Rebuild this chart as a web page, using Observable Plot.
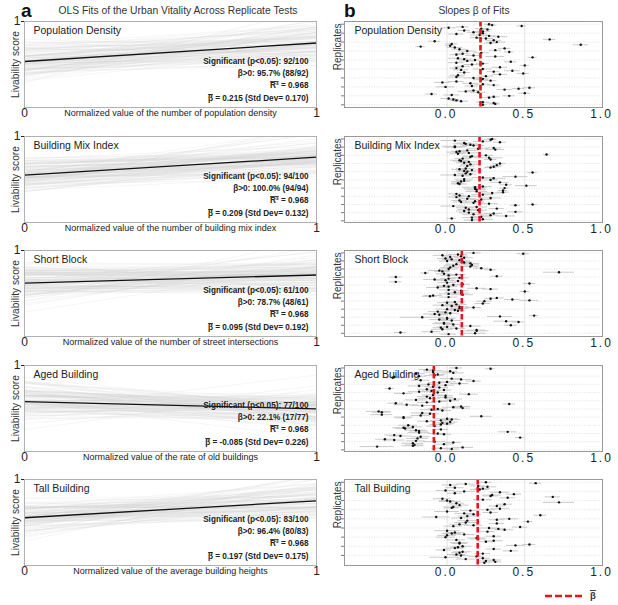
<!DOCTYPE html>
<html>
<head>
<meta charset="utf-8">
<script src="https://cdn.jsdelivr.net/npm/d3@7"></script>
<script src="https://cdn.jsdelivr.net/npm/@observablehq/plot@0.6"></script>
<style>
  body { margin: 0; background: #fff; font-family: "Liberation Sans", Arial, sans-serif; }
  #fig { position: relative; width: 618px; height: 605px; overflow: hidden; background: #fff; }
  #fig > svg { position: absolute; overflow: visible; }
  .slopes g[aria-label="x-axis tick label"] text { letter-spacing: 2px; }
</style>
</head>
<body>
<div id="fig"></div>
<script>
// ---- panel metadata ----
const panelNames = ["Population Density", "Building Mix Index", "Short Block", "Aged Building", "Tall Building"];
const xLabels = [
  "Normalized value of the number of population density",
  "Normalized value of the number of building mix index",
  "Normalized value of the number of street intersections",
  "Normalized value of the rate of old buildings",
  "Normalized value of the average building heights"
];
const significantLabels = ["92/100", "94/100", "61/100", "77/100", "83/100"];
const positiveLabels = ["95.7% (88/92)", "100.0% (94/94)", "78.7% (48/61)", "22.1% (17/77)", "96.4% (80/83)"];
const meanR2 = [0.968, 0.968, 0.968, 0.968, 0.968];
const meanBeta = [0.215, 0.209, 0.095, -0.085, 0.197];
const stdBeta = [0.170, 0.132, 0.192, 0.226, 0.175];
const meanIntercept = [0.535, 0.55, 0.62, 0.58, 0.555];
const slopeTicks = [0, 0.5, 1];

// ---- replicate fits: [slope β, CI half-width, offset of the fit at x = 0.5 from the mean fit] ----
const populationDensity = [
  [0.27,0.03,0.04],[0.29,0.03,-0.06],[0.48,0.03,0.10],[0.10,0.04,-0.02],[0.01,0.05,0.12],[0.22,0.04,-0.10],[0.26,0.03,0.03],[0.11,0.04,-0.15],[0.23,0.05,0.07],[0.17,0.04,-0.01],
  [0.23,0.03,0.15],[0.06,0.05,-0.07],[0.21,0.06,0.02],[0.27,0.05,-0.12],[0.33,0.06,0.06],[0.19,0.04,-0.04],[0.25,0.05,0.18],[0.66,0.04,0.05],[0.30,0.05,-0.09],[-0.08,0.04,0.01],
  [0.32,0.06,-0.03],[0.28,0.04,0.09],[0.03,0.04,-0.17],[0.86,0.05,0.08],[0.02,0.03,-0.05],[-0.17,0.03,0.04],[0.05,0.05,0.13],[0.37,0.04,-0.08],[0.08,0.05,0.00],[0.31,0.04,0.11],
  [0.13,0.06,-0.13],[0.40,0.03,0.03],[0.22,0.05,-0.02],[0.10,0.05,0.07],[0.06,0.04,-0.10],[0.17,0.05,0.16],[0.31,0.06,-0.06],[0.55,0.03,0.02],[0.07,0.06,-0.19],[0.11,0.05,0.05],
  [0.18,0.04,-0.03],[0.13,0.05,0.10],[0.41,0.04,-0.11],[0.06,0.05,0.01],[0.23,0.04,0.08],[0.16,0.05,-0.07],[0.50,0.03,0.04],[0.10,0.05,-0.14],[0.34,0.05,0.12],[0.06,0.04,-0.02],
  [0.23,0.06,0.06],[0.09,0.05,-0.09],[0.42,0.05,0.00],[0.30,0.04,0.14],[0.11,0.04,-0.05],[0.49,0.04,0.03],[0.34,0.05,-0.16],[0.07,0.05,0.09],[0.25,0.05,-0.01],[0.06,0.05,0.05],
  [0.17,0.06,-0.08],[0.23,0.04,0.20],[0.22,0.05,-0.04],[0.28,0.04,0.07],[0.06,0.05,-0.12],[-0.03,0.05,0.02],[0.15,0.05,0.11],[0.23,0.05,-0.06],[0.30,0.04,0.04],[0.16,0.04,-0.10],
  [-0.01,0.06,0.08],[0.53,0.04,-0.03],[0.46,0.04,0.13],[0.37,0.05,-0.07],[0.17,0.04,0.01],[0.12,0.05,-0.18],[0.20,0.05,0.06],[0.50,0.04,-0.02],[-0.10,0.04,0.10],[0.03,0.05,-0.09],
  [0.40,0.04,0.05],[0.30,0.04,-0.05],[0.27,0.05,0.15],[0.01,0.05,-0.11],[0.04,0.04,0.03],[0.06,0.04,-0.01],[0.09,0.05,0.09],[0.23,0.04,-0.13],[0.30,0.04,0.02],[0.31,0.03,-0.04],
  [0.23,0.03,0.07]
];
const buildingMix = [
  [0.29,0.03,0.04],[0.28,0.04,-0.08],[0.05,0.09,0.12],[0.23,0.06,-0.02],[0.34,0.04,0.06],[0.11,0.05,-0.15],[0.12,0.08,0.01],[0.15,0.06,0.09],[0.17,0.07,-0.05],[0.05,0.08,-0.11],
  [0.05,0.06,0.03],[0.30,0.05,0.14],[0.20,0.07,-0.07],[0.31,0.06,0.02],[0.13,0.07,-0.03],[0.08,0.05,0.08],[0.06,0.06,-0.18],[0.14,0.08,0.05],[0.07,0.05,-0.01],[0.64,0.02,0.13],
  [0.25,0.05,-0.06],[0.16,0.06,0.00],[0.15,0.05,0.10],[0.27,0.09,-0.09],[0.10,0.05,0.04],[0.28,0.04,-0.12],[0.08,0.06,0.07],[0.09,0.05,-0.02],[0.14,0.06,0.16],[0.11,0.05,-0.04],
  [0.34,0.04,0.02],[0.15,0.06,-0.08],[0.32,0.04,0.11],[0.13,0.05,-0.13],[0.30,0.05,0.03],[0.28,0.04,0.06],[0.12,0.06,-0.05],[0.08,0.05,0.09],[0.16,0.07,-0.20],[0.11,0.05,0.01],
  [0.13,0.06,-0.03],[0.55,0.03,0.12],[0.12,0.05,-0.07],[0.15,0.04,0.04],[0.05,0.09,-0.10],[0.10,0.05,0.08],[0.44,0.08,0.15],[0.23,0.07,-0.02],[0.30,0.08,-0.06],[0.11,0.06,0.05],
  [0.28,0.05,-0.14],[0.11,0.05,0.02],[0.09,0.06,0.07],[0.34,0.06,-0.04],[0.07,0.04,0.10],[0.08,0.05,-0.09],[0.38,0.04,0.03],[0.51,0.07,0.18],[0.23,0.06,-0.05],[0.18,0.08,0.00],
  [0.37,0.03,-0.11],[0.18,0.07,0.06],[0.19,0.06,-0.03],[0.36,0.03,0.09],[0.19,0.07,-0.16],[0.36,0.04,0.04],[0.29,0.06,-0.01],[0.06,0.05,0.08],[0.23,0.07,-0.07],[0.08,0.04,0.13],
  [0.14,0.06,-0.02],[0.06,0.05,-0.10],[0.28,0.07,0.05],[0.13,0.06,0.01],[0.22,0.07,-0.06],[0.08,0.05,0.11],[0.18,0.06,-0.04],[0.09,0.05,0.07],[0.17,0.07,-0.12],[0.27,0.06,0.03],
  [0.55,0.03,0.14],[0.44,0.03,-0.08],[0.04,0.08,0.02],[0.19,0.07,-0.05],[0.12,0.06,0.09],[0.32,0.05,-0.03],[0.14,0.07,0.06],[0.20,0.06,-0.15],[0.11,0.05,0.04],[0.44,0.05,0.10],
  [0.14,0.06,-0.01],[0.30,0.06,-0.07],[0.17,0.07,0.12],[0.28,0.05,-0.09],[0.38,0.06,0.02],[0.22,0.07,0.05],[0.16,0.06,-0.04],[0.03,0.03,0.08],[0.23,0.07,-0.13],[0.16,0.05,0.01]
];
const shortBlock = [
  [0.17,0.05,0.06],[0.49,0.04,-0.04],[0.07,0.06,0.11],[-0.03,0.06,-0.09],[0.09,0.05,0.02],[0.02,0.05,0.15],[0.11,0.06,-0.02],[-0.01,0.05,0.07],[0.03,0.06,-0.13],[0.08,0.07,0.03],
  [0.00,0.05,0.09],[0.10,0.06,-0.06],[0.11,0.05,0.00],[0.15,0.06,0.12],[0.06,0.07,-0.08],[0.16,0.05,0.05],[0.04,0.06,-0.15],[0.15,0.05,0.01],[0.02,0.06,0.08],[0.22,0.05,-0.03],
  [0.01,0.06,0.17],[0.28,0.04,-0.05],[-0.05,0.07,0.04],[-0.03,0.05,-0.11],[0.72,0.10,0.10],[-0.14,0.03,-0.01],[-0.02,0.05,0.06],[0.06,0.06,-0.07],[0.01,0.05,0.13],[0.32,0.04,-0.02],
  [-0.33,0.04,0.03],[0.08,0.06,-0.10],[0.01,0.05,0.08],[-0.08,0.07,-0.04],[-0.01,0.06,0.01],[0.07,0.05,0.14],[-0.33,0.04,-0.06],[0.00,0.06,0.05],[0.53,0.04,-0.12],[0.10,0.05,0.02],
  [0.04,0.06,0.09],[-0.02,0.05,-0.03],[0.01,0.06,0.11],[-0.06,0.07,-0.16],[0.19,0.06,0.04],[0.28,0.05,-0.01],[0.01,0.06,0.07],[0.09,0.05,-0.08],[0.50,0.03,0.03],[0.05,0.06,0.12],
  [0.09,0.05,-0.05],[0.01,0.06,0.00],[0.10,0.07,0.06],[-0.09,0.06,-0.10],[-0.11,0.05,0.08],[0.01,0.06,-0.02],[0.32,0.05,0.15],[0.28,0.04,-0.07],[0.42,0.05,0.02],[0.53,0.06,-0.04],
  [0.24,0.05,0.10],[0.05,0.07,-0.13],[0.00,0.06,0.05],[0.23,0.05,-0.01],[0.06,0.07,0.08],[-0.03,0.06,-0.09],[0.03,0.05,0.03],[0.08,0.06,0.13],[0.17,0.05,-0.06],[0.08,0.06,0.01],
  [0.00,0.07,-0.11],[0.05,0.06,0.07],[0.07,0.05,-0.03],[-0.06,0.06,0.04],[-0.01,0.05,0.18],[0.02,0.06,-0.08],[-0.08,0.07,0.02],[-0.05,0.06,-0.05],[0.56,0.03,0.09],[0.34,0.08,-0.02],
  [-0.16,0.14,0.06],[0.00,0.06,-0.14],[0.00,0.05,0.04],[-0.05,0.06,0.00],[0.03,0.07,0.11],[0.38,0.08,-0.06],[0.46,0.04,0.03],[-0.02,0.06,-0.09],[-0.02,0.07,0.07],[0.04,0.05,-0.02],
  [0.41,0.04,0.12],[0.15,0.07,-0.04],[0.00,0.06,0.05],[-0.04,0.05,-0.12],[0.06,0.06,0.02],[-0.03,0.07,0.09],[0.19,0.06,-0.07],[0.19,0.08,0.01],[-0.10,0.06,0.06],[-0.30,0.04,-0.03],
  [0.18,0.07,0.10],[0.01,0.05,-0.05]
];
const agedBuilding = [
  [0.06,0.04,0.05],[0.28,0.03,-0.07],[-0.13,0.05,0.10],[-0.09,0.06,-0.03],[0.02,0.05,0.13],[-0.09,0.06,-0.12],[0.04,0.07,0.02],[-0.20,0.06,0.07],[-0.06,0.05,-0.05],[-0.08,0.06,0.00],
  [-0.18,0.05,0.16],[-0.34,0.05,-0.02],[-0.35,0.06,0.04],[0.03,0.07,-0.10],[0.09,0.07,0.08],[-0.17,0.06,-0.06],[0.17,0.05,0.03],[0.00,0.06,0.11],[-0.05,0.07,-0.14],[0.08,0.06,0.01],
  [-0.12,0.07,0.06],[-0.01,0.06,-0.04],[-0.18,0.07,0.09],[-0.09,0.05,-0.08],[-0.05,0.06,0.02],[-0.37,0.03,0.14],[-0.13,0.06,-0.01],[-0.02,0.05,0.05],[-0.10,0.06,-0.11],[-0.18,0.07,0.03],
  [-0.06,0.05,0.00],[-0.28,0.06,0.12],[0.14,0.06,-0.06],[-0.09,0.07,0.04],[-0.01,0.05,-0.02],[-0.13,0.06,0.08],[-0.01,0.05,-0.15],[-0.11,0.07,0.06],[0.05,0.05,0.01],[-0.20,0.07,-0.09],
  [0.02,0.06,0.10],[-0.05,0.05,-0.03],[-0.13,0.06,0.05],[-0.33,0.05,-0.07],[0.40,0.04,0.15],[-0.26,0.08,-0.01],[-0.16,0.07,0.03],[0.09,0.06,-0.12],[0.04,0.07,0.07],[0.10,0.05,-0.04],
  [-0.06,0.06,0.02],[-0.10,0.07,0.11],[-0.03,0.06,-0.08],[-0.44,0.08,0.04],[-0.42,0.06,-0.17],[-0.16,0.07,0.09],[-0.11,0.06,-0.02],[-0.42,0.07,0.06],[-0.17,0.06,-0.05],[0.22,0.07,0.00],
  [-0.28,0.06,0.13],[-0.28,0.05,-0.09],[0.00,0.07,0.05],[0.03,0.06,-0.03],[-0.04,0.07,0.08],[-0.13,0.06,-0.13],[0.02,0.05,0.02],[-0.03,0.06,0.10],[0.00,0.05,-0.06],[-0.04,0.07,0.04],
  [-0.25,0.06,-0.01],[-0.08,0.05,0.07],[-0.22,0.06,-0.10],[-0.28,0.07,0.01],[-0.27,0.06,0.14],[-0.04,0.05,-0.04],[-0.20,0.07,0.06],[-0.18,0.06,-0.07],[0.39,0.06,0.03],[-0.18,0.07,0.09],
  [-0.06,0.06,-0.02],[-0.02,0.05,0.05],[-0.34,0.06,-0.11],[-0.30,0.07,0.00],[-0.17,0.06,0.08],[0.47,0.03,-0.05],[-0.19,0.07,0.12],[-0.40,0.06,-0.03],[-0.34,0.07,0.04],[-0.20,0.06,-0.14],
  [-0.08,0.07,0.07],[0.04,0.05,-0.01],[-0.22,0.07,0.03],[-0.02,0.06,0.10],[-0.21,0.06,-0.08],[-0.22,0.07,0.02],[-0.45,0.11,0.06],[0.10,0.07,-0.04],[-0.04,0.06,0.09],[0.03,0.05,-0.06]
];
const tallBuilding = [
  [0.25,0.04,0.05],[0.57,0.04,-0.04],[0.12,0.06,0.10],[0.02,0.05,-0.08],[0.20,0.05,0.02],[0.26,0.06,0.13],[0.05,0.06,-0.02],[0.23,0.05,0.07],[0.21,0.06,-0.12],[-0.01,0.06,0.03],
  [0.11,0.07,-0.05],[0.34,0.06,0.09],[0.05,0.05,0.00],[0.43,0.05,-0.09],[0.29,0.06,0.15],[0.28,0.05,-0.03],[0.68,0.05,0.06],[0.39,0.05,-0.06],[-0.03,0.06,0.11],[0.23,0.06,-0.14],
  [0.00,0.05,0.02],[0.02,0.07,0.08],[0.72,0.10,-0.01],[0.06,0.05,0.04],[0.37,0.05,-0.10],[0.08,0.06,0.12],[0.32,0.05,-0.03],[0.04,0.06,0.05],[0.03,0.05,-0.07],[0.34,0.06,0.01],
  [0.26,0.05,0.17],[0.15,0.06,-0.05],[0.00,0.08,0.03],[0.28,0.05,-0.11],[0.11,0.06,0.07],[0.17,0.05,-0.02],[0.60,0.04,0.10],[0.13,0.06,-0.06],[-0.07,0.09,0.04],[0.09,0.06,-0.15],
  [0.40,0.06,0.01],[0.32,0.05,0.08],[0.13,0.06,-0.04],[0.52,0.03,0.12],[0.12,0.07,-0.08],[0.32,0.05,0.02],[0.08,0.06,-0.01],[0.17,0.06,0.09],[0.04,0.06,-0.12],[0.47,0.05,0.05],
  [0.27,0.06,-0.03],[0.33,0.05,0.06],[0.37,0.06,-0.07],[0.00,0.08,0.14],[0.26,0.05,-0.02],[0.05,0.06,0.03],[0.03,0.06,-0.09],[0.11,0.07,0.07],[0.00,0.06,-0.04],[0.30,0.05,0.10],
  [-0.01,0.06,-0.13],[0.19,0.06,0.01],[0.20,0.05,0.04],[0.06,0.06,-0.06],[0.30,0.06,0.11],[0.25,0.05,-0.01],[0.08,0.06,0.06],[0.08,0.05,-0.10],[0.53,0.04,0.02],[0.44,0.06,0.13],
  [0.10,0.06,-0.05],[0.07,0.05,0.03],[0.05,0.06,-0.08],[0.30,0.05,0.08],[-0.02,0.05,-0.02],[0.41,0.05,0.05],[0.10,0.06,-0.14],[0.08,0.05,0.00],[0.23,0.05,0.09],[0.06,0.06,-0.04],
  [0.09,0.05,0.06],[0.19,0.05,-0.07],[-0.01,0.10,0.02],[0.23,0.05,0.12],[0.12,0.06,-0.03],[0.30,0.05,0.04],[0.25,0.04,-0.09],[0.31,0.04,0.07],[0.24,0.04,-0.01]
];
const replicateSets = [populationDensity, buildingMix, shortBlock, agedBuilding, tallBuilding];

// ---- layout ----
const fig = document.getElementById("fig");
const font = "'Liberation Sans', Arial, sans-serif";
const rowTop = i => 21 + 114.5 * i;   // top edge of each row's frames
const frameH = 86;

// Put an overline on the first `n` characters of texts starting with `lead`.
function overline(svg, lead, n) {
  for (const t of svg.querySelectorAll("text")) {
    if (t.childElementCount === 0 && t.textContent.startsWith(lead)) {
      const s = t.textContent;
      t.textContent = "";
      const ts = document.createElementNS("http://www.w3.org/2000/svg", "tspan");
      ts.setAttribute("style", "text-decoration: overline");
      ts.textContent = s.slice(0, n);
      t.append(ts, s.slice(n));
    }
  }
}

function fitsPanel(i) {
  const reps = replicateSets[i];
  const a = meanIntercept[i], b = meanBeta[i];
  const centre = a + b / 2;
  const notes = [
    `Significant (p<0.05): ${significantLabels[i]}`,
    `β>0: ${positiveLabels[i]}`,
    `R² = ${meanR2[i].toFixed(3)}`,
    `β = ${meanBeta[i].toFixed(3)} (Std Dev= ${stdBeta[i].toFixed(3)})`
  ];
  const noteDy = [40, 51.5, 64, 77];
  const svg = Plot.plot({
    width: 320, height: 10 + frameH + 20,
    marginLeft: 24, marginRight: 4, marginTop: 10, marginBottom: 20,
    x: {domain: [0, 1]},
    y: {domain: [0, 1]},
    style: {fontFamily: font, fontSize: "10px", color: "#222", background: "transparent", overflow: "visible"},
    marks: [
      Plot.link(reps, {
        x1: () => 0, x2: () => 1,
        y1: d => centre + d[2] - d[0] / 2,
        y2: d => centre + d[2] + d[0] / 2,
        stroke: "#d4d4d4", strokeOpacity: 0.3, strokeWidth: 0.7, clip: true
      }),
      Plot.link([{a, b}], {x1: () => 0, x2: () => 1, y1: d => d.a, y2: d => d.a + d.b, stroke: "#111", strokeWidth: 1.3}),
      Plot.frame({stroke: "#b0b0b0"}),
      Plot.axisX({ticks: [0, 1], tickSize: 0, tickPadding: 1, fontSize: 12, tickFormat: d => String(d)}),
      Plot.axisY({ticks: [1], tickSize: 3, tickPadding: 1, fontSize: 12, tickFormat: d => String(d)}),
      Plot.text([xLabels[i]], {frameAnchor: "bottom", dy: 6, lineAnchor: "middle", textAnchor: "middle", fontSize: 9, fill: "#222"}),
      Plot.text(["Livability score"], {frameAnchor: "left", rotate: -90, dx: -9, textAnchor: "middle", lineAnchor: "middle", fontSize: 10.2, fill: "#333"}),
      Plot.text([panelNames[i]], {frameAnchor: "top-left", dx: 9, dy: 9, lineAnchor: "middle", textAnchor: "start", fontSize: 10.5, fill: "#222"}),
      ...notes.map((s, j) => Plot.text([s], {frameAnchor: "top-right", dx: -8, dy: noteDy[j], lineAnchor: "middle",
        textAnchor: "end", fontSize: 8.2, fontWeight: "bold", fill: "#222"}))
    ]
  });
  overline(svg, "R²", 2);
  overline(svg, "β =", 1);
  svg.style.left = "0px";
  svg.style.top = (rowTop(i) - 10) + "px";
  fig.appendChild(svg);
}

function slopesPanel(i) {
  const reps = replicateSets[i];
  const n = reps.length;
  const rows = d3.range(0, n + 1, 10);
  const svg = Plot.plot({
    width: 298, height: 10 + frameH + 20,
    marginLeft: 24, marginRight: 16, marginTop: 10, marginBottom: 20,
    x: {domain: [-0.66, 1.0]},
    y: {domain: [-3, n + 2], reverse: true},
    style: {fontFamily: font, fontSize: "10px", color: "#222", background: "transparent", overflow: "visible"},
    marks: [
      Plot.gridX(slopeTicks, {stroke: "#e4e4e4", strokeOpacity: 1}),
      Plot.gridY(rows, {stroke: "#cfcfcf", strokeOpacity: 1, strokeDasharray: "1,1.5", strokeWidth: 0.6}),
      Plot.ruleY(reps, {y: (d, j) => j, x1: d => d[0] - d[1], x2: d => d[0] + d[1], stroke: "#c4c4c4", strokeWidth: 0.9}),
      Plot.dot(reps, {x: d => d[0], y: (d, j) => j, r: 1.2, fill: "#111", stroke: "none"}),
      Plot.ruleX([meanBeta[i]], {stroke: "#e8141c", strokeWidth: 2.6, strokeDasharray: "5.5,2.5"}),
      Plot.frame({stroke: "#999"}),
      Plot.axisX(slopeTicks, {tickSize: 0, tickPadding: 2, fontSize: 12, dx: -1, tickFormat: d3.format(".1f")}),
      Plot.axisY(rows, {tickSize: 3, tickFormat: () => "", stroke: "#777"}),
      Plot.text(["Replicates"], {frameAnchor: "top-left", rotate: -90, dx: -7, dy: 2, textAnchor: "end", lineAnchor: "middle", fontSize: 10, fill: "#333"}),
      Plot.text([panelNames[i]], {frameAnchor: "top-left", dx: 10, dy: 9, lineAnchor: "middle", textAnchor: "start", fontSize: 10.5, fill: "#222"})
    ]
  });
  svg.classList.add("slopes");
  svg.style.left = "320px";
  svg.style.top = (rowTop(i) - 10) + "px";
  fig.appendChild(svg);
}

for (let i = 0; i < panelNames.length; ++i) {
  fitsPanel(i);
  slopesPanel(i);
}

// ---- panel letters, column titles and the β̄ legend ----
const NS = "http://www.w3.org/2000/svg";
const deco = document.createElementNS(NS, "svg");
deco.setAttribute("width", 618);
deco.setAttribute("height", 605);
deco.style.left = "0px";
deco.style.top = "0px";
deco.style.pointerEvents = "none";
deco.innerHTML = `
  <g font-family="'Liberation Sans', Arial, sans-serif" fill="#111">
    <text x="21" y="17" font-size="19" font-weight="bold">a</text>
    <text x="178" y="14" font-size="10.3" text-anchor="middle" fill="#333">OLS Fits of the Urban Vitality Across Replicate Tests</text>
    <text x="344" y="17" font-size="19" font-weight="bold">b</text>
    <text x="474" y="14" font-size="10.3" text-anchor="middle" fill="#333">Slopes β of Fits</text>
    <line x1="545" x2="584" y1="596" y2="596" stroke="#e8141c" stroke-width="2.6" stroke-dasharray="7,3"/>
    <text x="590" y="599" font-size="9.5" font-weight="bold" fill="#333"><tspan style="text-decoration: overline">β</tspan></text>
  </g>`;
fig.appendChild(deco);
</script>
</body>
</html>
